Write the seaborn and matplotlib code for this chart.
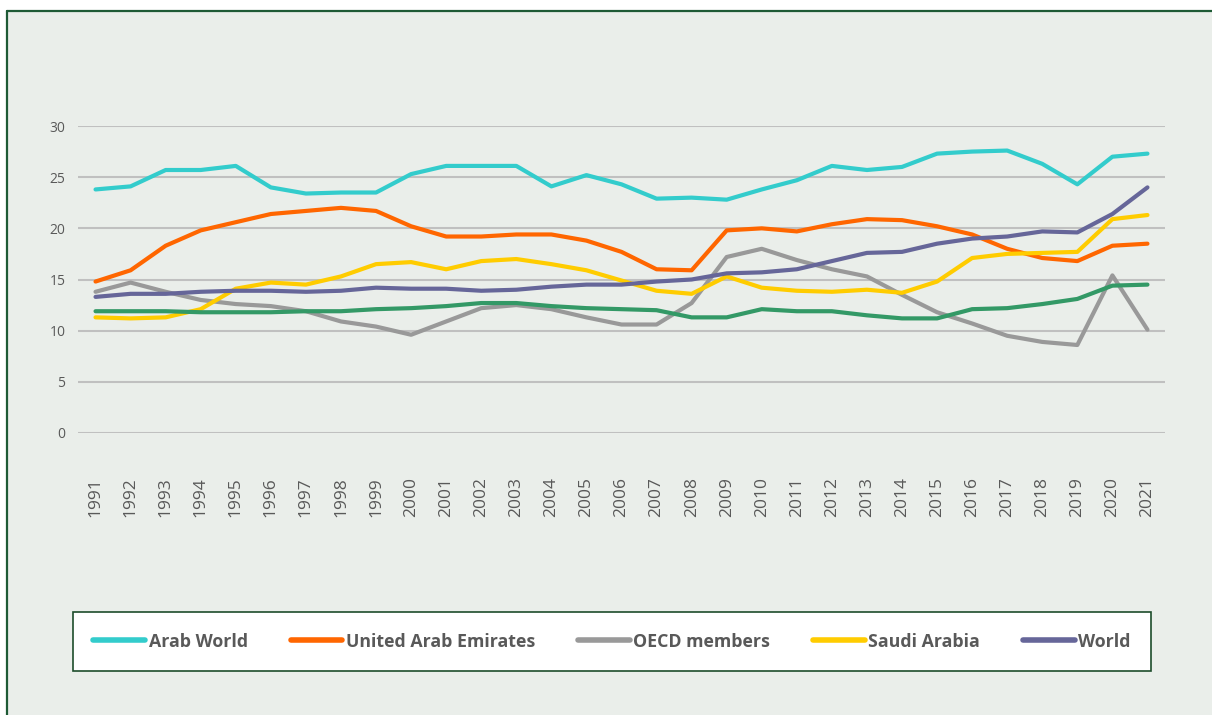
import matplotlib
matplotlib.use("Agg")
import matplotlib.pyplot as plt
from matplotlib.patches import Rectangle
from matplotlib.lines import Line2D
import seaborn as sns

years = list(range(1991, 2022))

arab_world = [23.8, 24.1, 25.7, 25.7, 26.1, 24.0, 23.4, 23.5, 23.5, 25.3, 26.1,
              26.1, 26.1, 24.1, 25.2, 24.3, 22.9, 23.0, 22.8, 23.8, 24.7,
              26.1, 25.7, 26.0, 27.3, 27.5, 27.6, 26.3, 24.3, 27.0, 27.3]
uae = [14.8, 15.9, 18.3, 19.8, 20.6, 21.4, 21.7, 22.0, 21.7, 20.2, 19.2,
       19.2, 19.4, 19.4, 18.8, 17.7, 16.0, 15.9, 19.8, 20.0, 19.7,
       20.4, 20.9, 20.8, 20.2, 19.4, 18.0, 17.1, 16.8, 18.3, 18.5]
oecd = [13.8, 14.7, 13.8, 13.0, 12.6, 12.4, 11.9, 10.9, 10.4, 9.6, 10.9,
        12.2, 12.5, 12.1, 11.3, 10.6, 10.6, 12.7, 17.2, 18.0, 16.9,
        16.0, 15.3, 13.5, 11.8, 10.7, 9.5, 8.9, 8.6, 15.4, 10.1]
saudi = [11.3, 11.2, 11.3, 12.1, 14.1, 14.7, 14.5, 15.3, 16.5, 16.7, 16.0,
         16.8, 17.0, 16.5, 15.9, 14.9, 13.9, 13.6, 15.3, 14.2, 13.9,
         13.8, 14.0, 13.7, 14.8, 17.1, 17.5, 17.6, 17.7, 20.9, 21.3]
world = [13.3, 13.6, 13.6, 13.8, 13.9, 13.9, 13.8, 13.9, 14.2, 14.1, 14.1,
         13.9, 14.0, 14.3, 14.5, 14.5, 14.8, 15.0, 15.6, 15.7, 16.0,
         16.8, 17.6, 17.7, 18.5, 19.0, 19.2, 19.7, 19.6, 21.4, 24.0]
unlabelled = [11.9, 11.9, 11.9, 11.8, 11.8, 11.8, 11.9, 11.9, 12.1, 12.2, 12.4,
              12.7, 12.7, 12.4, 12.2, 12.1, 12.0, 11.3, 11.3, 12.1, 11.9,
              11.9, 11.5, 11.2, 11.2, 12.1, 12.2, 12.6, 13.1, 14.4, 14.5]

series_names = ["Arab World", "United Arab Emirates", "OECD members",
                "Saudi Arabia", "World"]
series_values = [arab_world, uae, oecd, saudi, world]
series_colors = ["#33CCCC", "#FF6600", "#999999", "#FFCC00", "#666699"]
unlabelled_color = "#339966"

y_ticks = [0, 5, 10, 15, 20, 25, 30]

sns.set_theme(style="white")
plt.rcParams["font.family"] = ["Open Sans", "DejaVu Sans"]

fig = plt.figure(figsize=(12.12, 7.15), dpi=100, facecolor="white")

# panel background with a dark green left/top rule
fig.add_artist(Rectangle((7 / 1212, 0), 1.0, 1 - 11 / 715,
                         transform=fig.transFigure, facecolor="#EAEEEA",
                         edgecolor="none", zorder=0))
fig.add_artist(Line2D([7 / 1212, 7 / 1212], [0, 1 - 11 / 715],
                      transform=fig.transFigure, color="#1E5A35", lw=1.6))
fig.add_artist(Line2D([7 / 1212, 1.0], [1 - 11 / 715, 1 - 11 / 715],
                      transform=fig.transFigure, color="#1E5A35", lw=1.6))

ax = fig.add_axes([78 / 1212, 1 - 433 / 715, (1165 - 78) / 1212, (433 - 126) / 715])
ax.set_facecolor("none")

for name, vals, col in zip(series_names, series_values, series_colors):
    sns.lineplot(x=years, y=vals, color=col, linewidth=3, label=name, ax=ax,
                 clip_on=False, zorder=3)
sns.lineplot(x=years, y=unlabelled, color=unlabelled_color, linewidth=3,
             legend=False, ax=ax, clip_on=False, zorder=3)

ax.set_xlim(1990.5, 2021.5)
ax.set_ylim(0, 30)
ax.set_yticks(y_ticks)
ax.set_xticks(years)
ax.set_xticklabels([str(y) for y in years], rotation=90)
ax.grid(axis="y", color="#C0C0C0", linewidth=1.5)
ax.grid(axis="x", visible=False)
for s in ax.spines.values():
    s.set_visible(False)
ax.tick_params(axis="y", length=0, pad=9, labelsize=10, labelcolor="#595959")
ax.tick_params(axis="x", length=0, pad=32, labelsize=12.5, labelcolor="#595959")
ax.set_xlabel("")
ax.set_ylabel("")

ax.get_legend().remove()
leg_handles = [Line2D([0], [0], color=c, lw=4, solid_capstyle="round")
               for c in series_colors]
leg = fig.legend(leg_handles, series_names, loc="lower left",
                 bbox_to_anchor=(73 / 1212, 1 - 671 / 715, (1151 - 73) / 1212, 58 / 715),
                 mode="expand", ncol=5, frameon=True, fancybox=False,
                 framealpha=1.0, handlelength=2.9, handletextpad=0.2,
                 borderaxespad=0, borderpad=1.15,
                 prop={"family": ["Open Sans", "DejaVu Sans"], "weight": "bold", "size": 12.8})
leg.get_frame().set_edgecolor("#1D4D2B")
leg.get_frame().set_linewidth(1.2)
leg.get_frame().set_facecolor("white")
for t in leg.get_texts():
    t.set_color("#595959")

fig.savefig("out.png", dpi=100, facecolor="white")
